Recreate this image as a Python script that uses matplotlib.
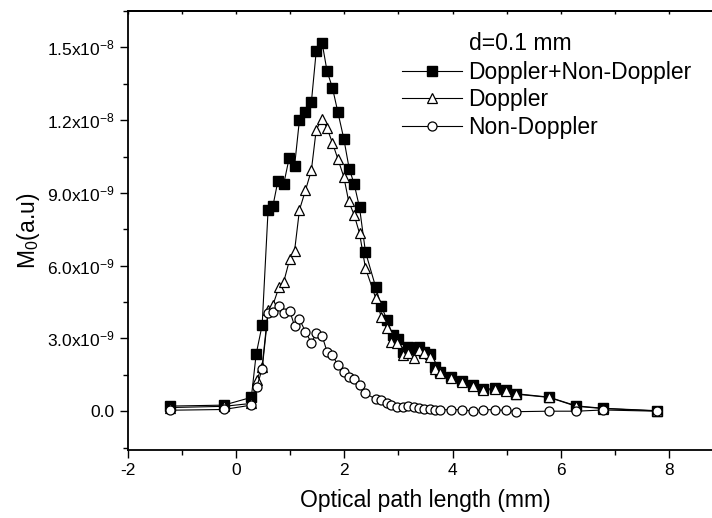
import numpy as np
import matplotlib
matplotlib.use("Agg")
import matplotlib.pyplot as plt
from matplotlib.ticker import FixedLocator, MultipleLocator

plt.rcParams['font.family'] = ['Liberation Sans', 'DejaVu Sans']
plt.rcParams['mathtext.default'] = 'regular'

# optical path length (mm)
x_sum = [-1.23, -0.23, 0.28, 0.37, 0.48, 0.59, 0.68, 0.77, 0.88, 0.98, 1.08, 1.17,
         1.28, 1.39, 1.48, 1.59, 1.68, 1.78, 1.88, 1.99, 2.09, 2.18, 2.28, 2.39,
         2.58, 2.68, 2.79, 2.89, 2.99, 3.08, 3.18, 3.29, 3.38, 3.48, 3.58, 3.67,
         3.77, 3.98, 4.18, 4.38, 4.57, 4.78, 4.98, 5.18, 5.78, 6.29, 6.78, 7.78]
x_dop = [-1.23, -0.23, 0.28, 0.38, 0.48, 0.59, 0.68, 0.79, 0.88, 0.99, 1.08, 1.17,
         1.28, 1.39, 1.48, 1.59, 1.68, 1.78, 1.88, 1.99, 2.08, 2.18, 2.28, 2.39,
         2.58, 2.68, 2.78, 2.87, 2.98, 3.08, 3.18, 3.29, 3.38, 3.48, 3.58, 3.67,
         3.77, 3.98, 4.18, 4.38, 4.57, 4.78, 4.98, 5.18, 5.78, 6.29, 6.78, 7.78]
x_non = x_dop

# M0 in units of 1e-9
m_sum = [0.21, 0.25, 0.57, 2.36, 3.55, 8.30, 8.47, 9.48, 9.38, 10.44, 10.12, 12.02,
         12.33, 12.74, 14.85, 15.17, 14.02, 13.33, 12.33, 11.23, 9.99, 9.38, 8.40, 6.57,
         5.11, 4.34, 3.76, 3.14, 2.96, 2.45, 2.66, 2.55, 2.63, 2.45, 2.36, 1.83,
         1.63, 1.39, 1.24, 1.07, 0.90, 0.94, 0.86, 0.72, 0.58, 0.22, 0.12, 0.02]
m_dop = [0.15, 0.20, 0.32, 1.30, 1.83, 4.17, 4.38, 5.11, 5.34, 6.27, 6.62, 8.30,
         9.10, 9.93, 11.61, 12.05, 11.67, 11.06, 10.40, 9.66, 8.65, 8.10, 7.34, 5.90,
         4.66, 3.90, 3.42, 2.86, 2.82, 2.31, 2.41, 2.18, 2.52, 2.38, 2.24, 1.76,
         1.58, 1.36, 1.19, 1.03, 0.86, 0.90, 0.84, 0.70, 0.57, 0.20, 0.11, 0.01]
m_non = [0.04, 0.07, 0.25, 1.00, 1.74, 4.04, 4.10, 4.34, 4.06, 4.14, 3.51, 3.79,
         3.28, 2.82, 3.21, 3.10, 2.45, 2.31, 1.90, 1.60, 1.42, 1.33, 1.07, 0.73,
         0.50, 0.45, 0.34, 0.25, 0.18, 0.18, 0.21, 0.18, 0.14, 0.10, 0.10, 0.06,
         0.06, 0.06, 0.06, 0.00, 0.06, 0.06, 0.03, -0.02, 0.00, 0.00, 0.05, 0.00]

ytick_vals = [0, 3, 6, 9, 12, 15]
ytick_labels = ['0.0', r'3.0x10$^{-9}$', r'6.0x10$^{-9}$', r'9.0x10$^{-9}$',
                r'1.2x10$^{-8}$', r'1.5x10$^{-8}$']

fig = plt.figure(figsize=(7.12, 5.18), dpi=100)
ax = fig.add_axes([128 / 712, 1 - 450 / 518, 595 / 712, 439 / 518])

scale = 1e-9
ax.plot(x_sum, np.array(m_sum) * scale, '-', color='black', lw=0.8,
        marker='s', ms=6.5, mfc='black', mec='black', label='Doppler+Non-Doppler')
ax.plot(x_dop, np.array(m_dop) * scale, '-', color='black', lw=0.8,
        marker='^', ms=7.5, mfc='white', mec='black', mew=0.9, label='Doppler')
ax.plot(x_non, np.array(m_non) * scale, '-', color='black', lw=0.8,
        marker='o', ms=6.5, mfc='white', mec='black', mew=0.9, label='Non-Doppler')

ax.set_xlim(-2, 9)
ax.set_ylim(-1.6 * scale, 16.5 * scale)
ax.xaxis.set_major_locator(FixedLocator([-2, 0, 2, 4, 6, 8]))
ax.xaxis.set_minor_locator(MultipleLocator(1))
ax.yaxis.set_major_locator(FixedLocator([v * scale for v in ytick_vals]))
ax.set_yticklabels(ytick_labels)
ax.yaxis.set_minor_locator(MultipleLocator(1.5 * scale))
ax.set_xticklabels(['-2', '0', '2', '4', '6', '8'])

ax.tick_params(which='both', direction='out', labelsize=12.5, width=1.0)
ax.tick_params(which='major', length=6)
ax.tick_params(which='minor', length=3.5)
ax.tick_params(right=False, top=False)
for s in ['left', 'bottom', 'top']:
    ax.spines[s].set_linewidth(1.3)
ax.spines['right'].set_visible(False)

ax2 = ax.twiny()
ax2.set_xlim(ax.get_xlim())
ax2.set_xticks(range(-2, 10))
ax2.tick_params(direction='in', length=2.5, width=1.0, labeltop=False)
for s in ['left', 'bottom', 'right']:
    ax2.spines[s].set_visible(False)
ax2.spines['top'].set_linewidth(1.3)

ax.set_xlabel('Optical path length (mm)', fontsize=16.5, labelpad=8)
ax.set_ylabel(r'M$_0$(a.u)', fontsize=16.5, labelpad=4)

ax.text(0.573, 0.927, 'd=0.1 mm', transform=ax.transAxes, fontsize=16.5,
        ha='left', va='center')
ax.legend(loc='upper left', bbox_to_anchor=(0.4605, 0.887), frameon=False,
          fontsize=16.5, handlelength=2.6, handletextpad=0.3, labelspacing=0.2,
          borderpad=0, borderaxespad=0)

fig.savefig('out.png', dpi=100)
